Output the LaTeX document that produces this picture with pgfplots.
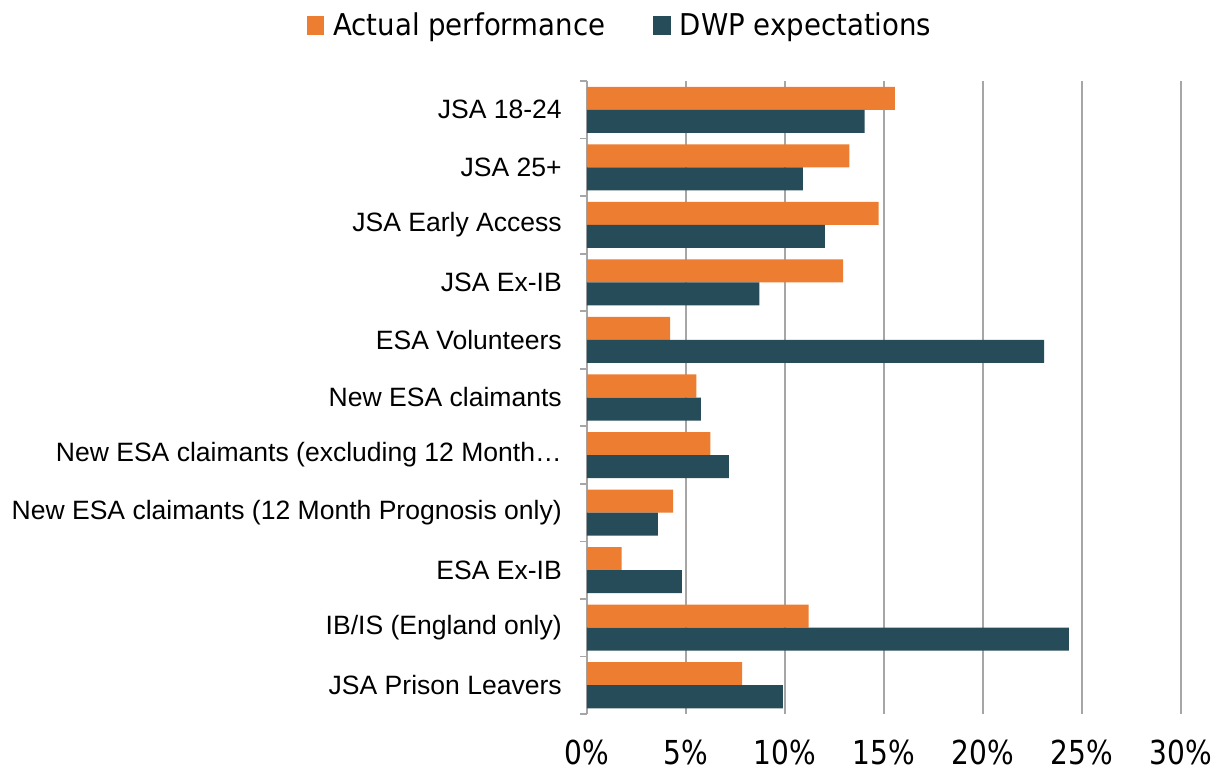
\documentclass[border=0pt]{standalone}
\usepackage{fontspec}
\setmainfont{Liberation Sans}
\newfontfamily\dejavu{DejaVu Sans}
\usepackage{graphicx}
\usepackage{pgfplots}
\usepackage{pgfplotstable}
\pgfplotsset{compat=1.18}
\definecolor{orangeC}{RGB}{237,125,49}
\definecolor{darkC}{RGB}{38,76,90}
\definecolor{gridC}{RGB}{166,166,166}
\newcommand{\sqt}[1]{\scalebox{0.85}[1]{#1}}
\newcommand{\sql}[1]{\scalebox{0.92}[1]{#1}}
\pgfplotstableread{
cat a d
0 15.55 14.02
1 13.25 10.90
2 14.73 12.02
3 12.93 8.71
4 4.20 23.09
5 5.52 5.75
6 6.23 7.17
7 4.35 3.58
8 1.75 4.79
9 11.19 24.34
10 7.83 9.89
}\datatable
\begin{document}
\begin{tikzpicture}
\useasboundingbox (-440.25pt,-42.75pt) rectangle (477pt,535.5pt);
\begin{axis}[
  at={(0,0)}, anchor=south west,
  scale only axis,
  width=445.5pt, height=474.75pt,
  xbar, bar width=0.4,
  xmin=0, xmax=30,
  ymin=-0.5, ymax=10.5,
  y dir=reverse,
  axis lines*=left,
  axis line style={-, draw=gridC, line width=1.3pt},
  x axis line style={draw=none},
  xtick={0,5,10,15,20,25,30},
  xticklabels={\sqt{0\%},\sqt{5\%},\sqt{10\%},\sqt{15\%},\sqt{20\%},\sqt{25\%},\sqt{30\%}},
  xticklabel style={font=\dejavu\fontsize{24.75}{28}\selectfont, anchor=north, inner sep=0pt, yshift=-19.5pt},
  xmajorgrids,
  grid style={draw=gridC, line width=1.3pt},
  ytick={0,...,10},
  yticklabels={JSA 18-24, JSA 25+, JSA Early Access, JSA Ex-IB, ESA Volunteers, New ESA claimants, New ESA claimants (excluding 12 Month…, New ESA claimants (12 Month Prognosis only), ESA Ex-IB, IB/IS (England only), JSA Prison Leavers},
  yticklabel style={font=\fontsize{19.9}{22}\selectfont, anchor=east, inner sep=0pt, xshift=-18.75pt},
  minor ytick={-0.5,0.5,...,10.5},
  major tick length=0pt,
  minor tick length=5.25pt,
  tick align=outside,
  ytick pos=left,
  xtick pos=bottom,
  tick style={draw=gridC, line width=1.3pt},
  xtick style={draw=none},
  legend columns=2,
  legend style={draw=none, fill=none, at={(0.056,1.088)}, anchor=center,
    font=\dejavu\fontsize{22.5}{26}\selectfont,
    /tikz/every odd column/.append style={column sep=5pt},
    /tikz/every even column/.append style={column sep=34pt},
    inner sep=0pt},
  legend cell align=left,
]
\addplot[fill=orangeC, draw=none, bar shift=-0.2,
  legend image code/.code={\fill[orangeC] (0pt,-6.9pt) rectangle (13pt,6.9pt);}]
  table[x=a, y=cat] {\datatable};
\addlegendentry{\sql{Actual performance}}
\addplot[fill=darkC, draw=none, bar shift=0.2,
  legend image code/.code={\fill[darkC] (0pt,-6.9pt) rectangle (13pt,6.9pt);}]
  table[x=d, y=cat] {\datatable};
\addlegendentry{\sql{DWP expectations}}
\end{axis}
\end{tikzpicture}
\end{document}
